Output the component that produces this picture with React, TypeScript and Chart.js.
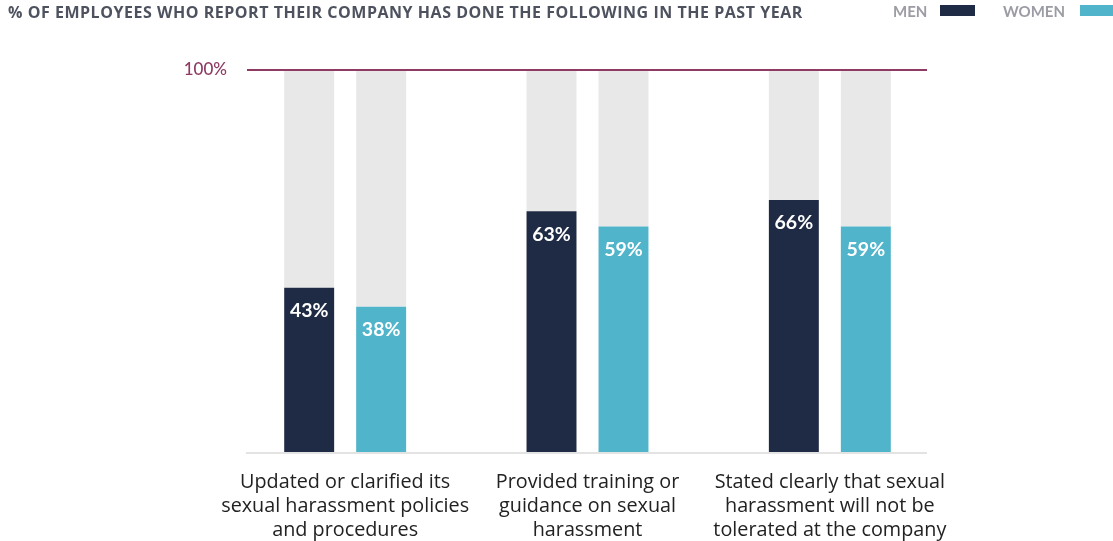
import React, { useEffect, useRef } from "react";
import { Chart, registerables } from "chart.js";

Chart.register(...registerables);

const categories: string[][] = [
  ["Updated or clarified its", "sexual harassment policies", "and procedures"],
  ["Provided training or", "guidance on sexual", "harassment"],
  ["Stated clearly that sexual", "harassment will not be", "tolerated at the company"],
];
const menValues = [43, 63, 66];
const womenValues = [38, 59, 59];
const yMax = 100;
const titleText = "% OF EMPLOYEES WHO REPORT THEIR COMPANY HAS DONE THE FOLLOWING IN THE PAST YEAR";
const legendLabels = ["MEN", "WOMEN"];

const MEN = "#1f2a44";
const WOMEN = "#50b4cb";
const GREY = "#e8e8e8";
const MAROON = "#8e3a63";
const FONT = "Lato, 'Open Sans', sans-serif";
const LFONT = "'Open Sans', sans-serif";

export default function App() {
  const ref = useRef<HTMLCanvasElement>(null);
  useEffect(() => {
    const overlay = {
      id: "overlay",
      afterDatasetsDraw(chart: any) {
        const ctx = chart.ctx;
        const y = chart.scales.y;
        ctx.save();
        const y0 = y.getPixelForValue(0);
        ctx.strokeStyle = "#e3e3e3";
        ctx.lineWidth = 2;
        ctx.beginPath();
        ctx.moveTo(246, y0 + 1);
        ctx.lineTo(927, y0 + 1);
        ctx.stroke();
        const y100 = y.getPixelForValue(yMax);
        ctx.strokeStyle = MAROON;
        ctx.lineWidth = 2;
        ctx.beginPath();
        ctx.moveTo(247, y100);
        ctx.lineTo(927, y100);
        ctx.stroke();
        ctx.fillStyle = MAROON;
        ctx.font = `500 17px ${FONT}`;
        ctx.textAlign = "right";
        ctx.textBaseline = "middle";
        ctx.fillText("100%", 227, y100);
        ctx.fillStyle = "#ffffff";
        ctx.font = `bold 19.5px ${FONT}`;
        ctx.textAlign = "center";
        [0, 2].forEach((di) => {
          const meta = chart.getDatasetMeta(di);
          const vals = di === 0 ? menValues : womenValues;
          meta.data.forEach((bar: any, i: number) => {
            ctx.fillText(vals[i] + "%", bar.x, bar.y + 23);
          });
        });
        ctx.fillStyle = "#4d525e";
        ctx.font = `bold 16px ${LFONT}`;
        ctx.textAlign = "left";
        (ctx as any).letterSpacing = "0.53px";
        ctx.fillText(titleText, 8, 13);
        (ctx as any).letterSpacing = "0px";
        ctx.fillStyle = "#9b9ca4";
        ctx.font = `bold 15px ${FONT}`;
        ctx.fillText(legendLabels[0], 893, 12);
        ctx.fillText(legendLabels[1], 1003, 12);
        ctx.fillStyle = MEN;
        ctx.fillRect(940, 5, 35, 11);
        ctx.fillStyle = WOMEN;
        ctx.fillRect(1080, 5, 33, 11);
        ctx.restore();
      },
    };
    const chart = new Chart(ref.current!, {
      type: "bar",
      data: {
        labels: categories,
        datasets: [
          { label: "Men", data: menValues, backgroundColor: MEN, stack: "m" },
          { label: "MenRest", data: menValues.map((v) => yMax - v), backgroundColor: GREY, stack: "m" },
          { label: "Women", data: womenValues, backgroundColor: WOMEN, stack: "w" },
          { label: "WomenRest", data: womenValues.map((v) => yMax - v), backgroundColor: GREY, stack: "w" },
        ],
      },
      options: {
        animation: false,
        responsive: false,
        maintainAspectRatio: false,
        layout: { padding: { left: 224, right: 162, top: 70, bottom: 0 } },
        datasets: { bar: { categoryPercentage: 0.594, barPercentage: 0.694 } },
        plugins: { legend: { display: false }, tooltip: { enabled: false } },
        scales: {
          x: {
            stacked: true,
            grid: { display: false, drawTicks: false },
            border: { display: false },
            afterFit: (s: any) => {
              s.height = 89;
            },
            ticks: {
              color: "#222222",
              font: { family: LFONT, size: 19.8, lineHeight: 24 / 19.8 },
              padding: 18,
              maxRotation: 0,
              autoSkip: false,
            },
          },
          y: { stacked: true, display: false, min: 0, max: yMax },
        },
      },
      plugins: [overlay],
    });
    return () => chart.destroy();
  }, []);
  return (
    <div style={{ position: "fixed", left: 0, top: 0, width: 1113, height: 541, background: "#fff" }}>
      <canvas ref={ref} width={1113} height={541} />
    </div>
  );
}
